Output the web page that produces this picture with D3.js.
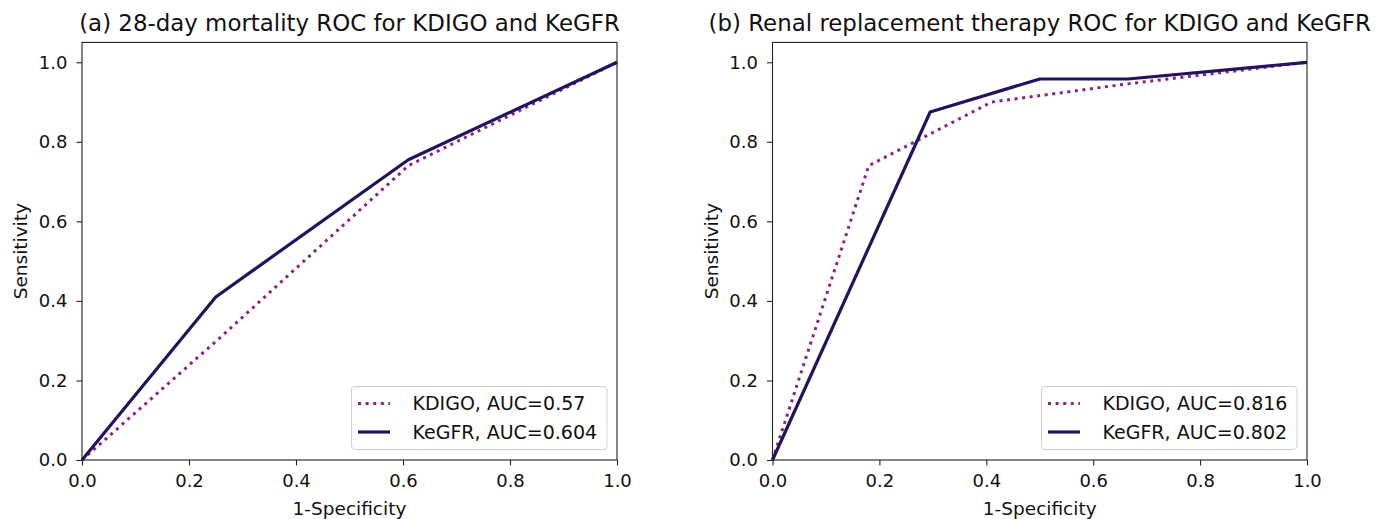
<!DOCTYPE html>
<html>
<head>
<meta charset="utf-8">
<script src="https://cdn.jsdelivr.net/npm/d3@7"></script>
<style>
  body { margin: 0; background: #fff; }
  svg { display: block; font-family: "DejaVu Sans", sans-serif; }
</style>
</head>
<body>
<div id="chart"></div>
<script>
// ROC points (x = 1-specificity, y = sensitivity)
const mortKdigoFpr = [0, 0.26, 0.61, 1];
const mortKdigoTpr = [0, 0.31, 0.74, 1];
const mortKegfrFpr = [0, 0.25, 0.61, 1];
const mortKegfrTpr = [0, 0.41, 0.755, 1];

const rrtKdigoFpr = [0, 0.18, 0.41, 0.66, 1];
const rrtKdigoTpr = [0, 0.74, 0.90, 0.945, 1];
const rrtKegfrFpr = [0, 0.295, 0.5, 0.665, 1];
const rrtKegfrTpr = [0, 0.875, 0.958, 0.958, 1];

const panelTitles = [
  "(a) 28-day mortality ROC for KDIGO and KeGFR",
  "(b) Renal replacement therapy ROC for KDIGO and KeGFR"
];
const legendLabels = [
  ["KDIGO, AUC=0.57", "KeGFR, AUC=0.604"],
  ["KDIGO, AUC=0.816", "KeGFR, AUC=0.802"]
];
const tickValues = [0, 0.2, 0.4, 0.6, 0.8, 1.0];

const kdigoColor = "#8c2280";
const kegfrColor = "#24125e";

const W = 1389, H = 519;
const svg = d3.select("#chart").append("svg")
  .attr("width", W)
  .attr("height", H);

const panels = [
  { left: 82, right: 617,
    series: [
      { fpr: mortKdigoFpr, tpr: mortKdigoTpr, color: kdigoColor, dash: "3,4.6" },
      { fpr: mortKegfrFpr, tpr: mortKegfrTpr, color: kegfrColor, dash: null }
    ] },
  { left: 772.5, right: 1307,
    series: [
      { fpr: rrtKdigoFpr, tpr: rrtKdigoTpr, color: kdigoColor, dash: "3,4.6" },
      { fpr: rrtKegfrFpr, tpr: rrtKegfrTpr, color: kegfrColor, dash: null }
    ] }
];

const plotTop = 42.4, plotBottom = 460;

panels.forEach((p, i) => {
  const x = d3.scaleLinear().domain([0, 1]).range([p.left, p.right]);
  const y = d3.scaleLinear().domain([0, 1.05]).range([plotBottom, plotTop]);
  const g = svg.append("g");

  // axes
  const xAxis = g.append("g")
    .attr("transform", `translate(0,${plotBottom})`)
    .call(d3.axisBottom(x).tickValues(tickValues).tickFormat(d3.format(".1f"))
      .tickSizeOuter(0).tickSize(5.5).tickPadding(9));
  const yAxis = g.append("g")
    .attr("transform", `translate(${p.left},0)`)
    .call(d3.axisLeft(y).tickValues(tickValues).tickFormat(d3.format(".1f"))
      .tickSizeOuter(0).tickSize(5.5).tickPadding(9));
  [xAxis, yAxis].forEach(a => {
    a.select(".domain").remove();
    a.selectAll("line").attr("stroke", "#222").attr("stroke-width", 1.1);
    a.selectAll("text").attr("fill", "#111")
      .style("font-size", "18px").style("font-family", "DejaVu Sans");
  });

  // curves
  const line = d3.line()
    .x(d => x(d[0]))
    .y(d => y(d[1]));
  p.series.forEach(s => {
    g.append("path")
      .datum(s.fpr.map((f, k) => [f, s.tpr[k]]))
      .attr("fill", "none")
      .attr("stroke", s.color)
      .attr("stroke-width", s.dash ? 3 : 3.2)
      .attr("stroke-dasharray", s.dash)
      .attr("stroke-linejoin", "round")
      .attr("d", line);
  });

  // frame
  g.append("rect")
    .attr("x", p.left).attr("y", plotTop)
    .attr("width", p.right - p.left).attr("height", plotBottom - plotTop)
    .attr("fill", "none").attr("stroke", "#222").attr("stroke-width", 1.1);

  // title
  g.append("text")
    .attr("x", (p.left + p.right) / 2).attr("y", 31)
    .attr("text-anchor", "middle")
    .style("font-size", "22.9px")
    .attr("fill", "#111")
    .text(panelTitles[i]);

  // axis labels
  g.append("text")
    .attr("x", (p.left + p.right) / 2).attr("y", 515)
    .attr("text-anchor", "middle")
    .style("font-size", "18.5px")
    .attr("fill", "#111")
    .text("1-Specificity");
  g.append("text")
    .attr("transform", `translate(${p.left - 55},${(plotTop + plotBottom) / 2}) rotate(-90)`)
    .attr("text-anchor", "middle")
    .style("font-size", "18.5px")
    .attr("fill", "#111")
    .text("Sensitivity");

  // legend
  const lgRight = p.right - 10, lgW = 255.5, lgTop = 386.5, lgH = 63;
  const lg = g.append("g").attr("transform", `translate(${lgRight - lgW},${lgTop})`);
  lg.append("rect")
    .attr("width", lgW).attr("height", lgH)
    .attr("rx", 3.5)
    .attr("fill", "#fff").attr("fill-opacity", 0.8)
    .attr("stroke", "#d0d0d0").attr("stroke-width", 1);
  p.series.forEach((s, k) => {
    const cy = 17 + k * 28.5;
    lg.append("line")
      .attr("x1", 6.5).attr("x2", 38.5)
      .attr("y1", cy).attr("y2", cy)
      .attr("stroke", s.color)
      .attr("stroke-width", s.dash ? 3 : 3.2)
      .attr("stroke-dasharray", s.dash);
    lg.append("text")
      .attr("x", 61).attr("y", cy)
      .attr("dy", "0.36em")
      .style("font-size", "19px")
      .attr("fill", "#111")
      .text(legendLabels[i][k]);
  });
});
</script>
</body>
</html>
